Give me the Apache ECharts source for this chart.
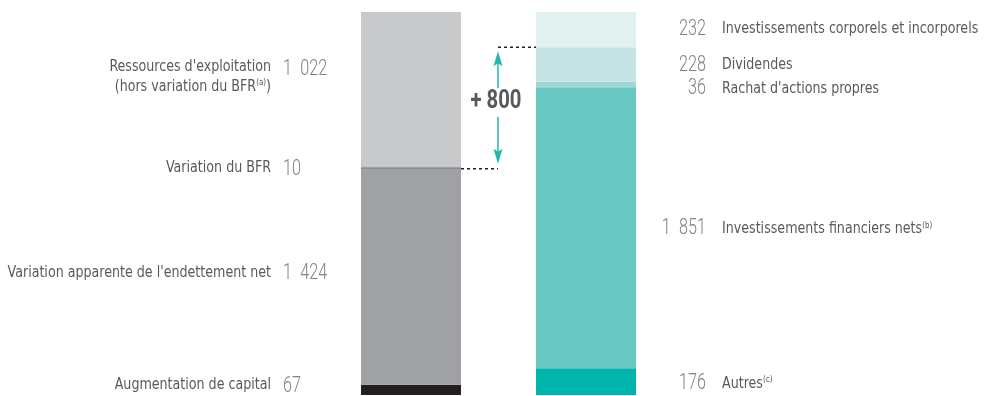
<!DOCTYPE html>
<html><head><meta charset="utf-8">
<script src="https://cdn.jsdelivr.net/npm/echarts@6/dist/echarts.min.js"></script>
<style>html,body{margin:0;padding:0;background:#fff}#c{width:985px;height:396px}</style>
</head><body><div id="c"></div>
<script>
// ---- data ----
const categories = ['Ressources', 'Emplois'];
const leftValues = [67, 1424, 10, 1022];
const leftLabels = ['Augmentation de capital', "Variation apparente de l'endettement net", 'Variation du BFR', "Ressources d'exploitation"];
const leftLine2 = ['', '', '', '(hors variation du BFR'];
const leftLine2Sup = ['', '', '', '(a)'];
const rightValues = [176, 1851, 36, 228, 232];
const rightLabels = ['Autres', 'Investissements financiers nets', "Rachat d'actions propres", 'Dividendes', 'Investissements corporels et incorporels'];
const rightSup = ['(c)', '(b)', '', '', ''];
const deltaText = '+ 800';

// ---- styles / layout ----
const leftColors = ['#231f20', '#a0a1a5', '#6d6e71', '#c8c9cb'];
const rightColors = ['#00b5ab', '#68c8c2', '#9dd6d2', '#c3e4e2', '#e1f1f0'];
const leftLabelDy = [-5, -3.5, -0.5, -23];
const leftNumDy = [-4, -3.5, 1, -20.5];
const rightLabelDy = [2, 1, 4, 0.5, -0.5];
const rightNumDy = [2, 1, 4, 0.5, -0.5];
const LINE_GAP = 20;
const LFONT = "'DejaVu Sans Condensed','DejaVu Sans',sans-serif";
const NFONT = "Roboto,'DejaVu Sans',sans-serif";
const L_SIZE = 16, L_SCALE = 0.88;
const N_SIZE = 22.5, N_SCALE = 0.72;
const LABEL_COLOR = '#58595b', NUM_COLOR = '#808285';
const BAR_W = 100;
const total = leftValues.reduce((a, b) => a + b, 0);

function fmt(v) { return String(v).replace(/\B(?=(\d{3})+(?!\d))/g, '\u2002'); }

const series = [];
leftValues.forEach((v, i) => {
  series.push({ type: 'bar', stack: 'all', barWidth: BAR_W, data: [v, '-'],
    itemStyle: { color: leftColors[i] }, emphasis: { disabled: true } });
});
rightValues.forEach((v, i) => {
  series.push({ type: 'bar', stack: 'all', barWidth: BAR_W, data: ['-', v],
    itemStyle: { color: rightColors[i] }, emphasis: { disabled: true } });
});

const chart = echarts.init(document.getElementById('c'), null, { renderer: 'canvas' });
chart.setOption({
  animation: false,
  grid: { left: 323.5, width: 350, top: 12, height: 383 },
  xAxis: { type: 'category', data: categories, show: false },
  yAxis: { type: 'value', min: 0, max: total, show: false },
  series: series
});

const rich = {
  l: { fontFamily: LFONT, fontSize: L_SIZE, fill: LABEL_COLOR, color: LABEL_COLOR },
  s: { fontFamily: LFONT, fontSize: 9, fill: LABEL_COLOR, color: LABEL_COLOR, verticalAlign: 'top', padding: [0, 0, 0, 0] }
};
function labelText(x, y, main, sup, align) {
  const text = '{l|' + main + '}' + (sup ? '{s|' + sup + '}' : '');
  return { type: 'text', x: x, y: y, scaleX: L_SCALE, silent: true,
    style: { text: text, rich: rich, align: align, verticalAlign: 'middle', fontFamily: LFONT, fontSize: L_SIZE, fill: LABEL_COLOR } };
}
function numText(x, y, v, align) {
  return { type: 'text', x: x, y: y, scaleX: N_SCALE, silent: true,
    style: { text: fmt(v), align: align, verticalAlign: 'middle', fontFamily: NFONT, fontWeight: 300, fontSize: N_SIZE, fill: NUM_COLOR } };
}

const graphics = [];
// left labels
let cum = 0;
leftValues.forEach((v, i) => {
  const p = chart.convertToPixel({ gridIndex: 0 }, [0, cum + v / 2]);
  cum += v;
  const edge = p[0] - BAR_W / 2;
  graphics.push(labelText(edge - 90, p[1] + leftLabelDy[i], leftLabels[i], '', 'right'));
  if (leftLine2[i]) {
    const t = labelText(edge - 90, p[1] + leftLabelDy[i] + LINE_GAP, leftLine2[i], leftLine2Sup[i], 'right');
    t.style.text += '{l|)}';
    graphics.push(t);
  }
  graphics.push(numText(edge - 78, p[1] + leftNumDy[i], v, 'left'));
});
// right labels
cum = 0;
rightValues.forEach((v, i) => {
  const p = chart.convertToPixel({ gridIndex: 0 }, [1, cum + v / 2]);
  cum += v;
  const edge = p[0] + BAR_W / 2;
  graphics.push(numText(edge + 70, p[1] + rightNumDy[i], v, 'right'));
  graphics.push(labelText(edge + 86, p[1] + rightLabelDy[i], rightLabels[i], rightSup[i], 'left'));
});

// connector: difference between left cumulative (capital + endettement) and right cumulative (up to dividends)
const leftLevel = leftValues[0] + leftValues[1];
const rightLevel = rightValues[0] + rightValues[1] + rightValues[2] + rightValues[3];
const pL = chart.convertToPixel({ gridIndex: 0 }, [0, leftLevel]);
const pR = chart.convertToPixel({ gridIndex: 0 }, [1, rightLevel]);
const xLeftEdge = pL[0] + BAR_W / 2;
const xRightEdge = pR[0] - BAR_W / 2;
const xMid = (xLeftEdge + xRightEdge) / 2 - 0.5;
const yTop = pR[1], yBot = pL[1];
const teal = '#22b6ae';
const yText = (yTop + yBot) / 2 - 6;
graphics.push(
  { type: 'line', shape: { x1: xMid, y1: yTop, x2: xRightEdge, y2: yTop }, style: { stroke: '#231f20', lineWidth: 1.5, lineDash: [3, 3] } },
  { type: 'line', shape: { x1: xLeftEdge, y1: yBot, x2: xMid, y2: yBot }, style: { stroke: '#231f20', lineWidth: 1.5, lineDash: [3, 3] } },
  { type: 'line', shape: { x1: xMid, y1: yTop + 12, x2: xMid, y2: yText - 14 }, style: { stroke: teal, lineWidth: 1.5 } },
  { type: 'line', shape: { x1: xMid, y1: yText + 15, x2: xMid, y2: yBot - 12 }, style: { stroke: teal, lineWidth: 1.5 } },
  { type: 'polygon', shape: { points: [[xMid, yTop + 4], [xMid - 4.5, yTop + 19], [xMid, yTop + 16], [xMid + 4.5, yTop + 19]] }, style: { fill: teal } },
  { type: 'polygon', shape: { points: [[xMid, yBot - 5], [xMid - 4.5, yBot - 20], [xMid, yBot - 17], [xMid + 4.5, yBot - 20]] }, style: { fill: teal } },
  { type: 'text', x: xMid - 2, y: yText, scaleX: 0.78, originX: 0,
    style: { text: deltaText, fontFamily: NFONT, fontSize: 26, fontWeight: 'bold', fill: '#58595b', align: 'center', verticalAlign: 'middle' } }
);
chart.setOption({ graphic: graphics });
</script></body></html>
